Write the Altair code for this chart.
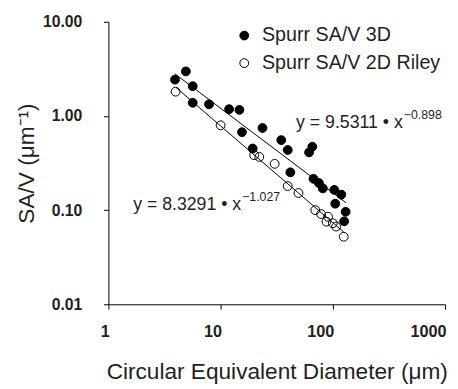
import altair as alt
import pandas as pd

FONT = "Liberation Sans"

# Series: Spurr SA/V 3D (filled)
filled_x = [3.92, 4.90, 5.64, 5.64, 7.88, 11.9, 14.7, 15.5, 23.6, 19.3, 34.7, 39.6,
            61.4, 65.6, 41.8, 67.2, 75.1, 81.4, 103, 119, 105, 130, 126]
filled_y = [2.43, 2.97, 2.07, 1.38, 1.33, 1.18, 1.16, 0.672, 0.745, 0.451, 0.554, 0.435,
            0.410, 0.471, 0.252, 0.215, 0.194, 0.170, 0.164, 0.146, 0.117, 0.096, 0.076]

# Series: Spurr SA/V 2D Riley (open)
open_x = [3.97, 10.0, 19.9, 22.1, 30.3, 39.6, 49.4, 69.7, 78.6, 90.6, 87.7, 100, 107, 125]
open_y = [1.81, 0.796, 0.383, 0.367, 0.310, 0.180, 0.152, 0.100, 0.0908, 0.0851,
          0.0754, 0.0726, 0.0669, 0.0521]

series_names = ["Spurr SA/V 3D", "Spurr SA/V 2D Riley"]

# Power-law fits y = a * x^b and their x extents
fit_a = [9.5311, 8.3291]
fit_b = [-0.898, -1.027]
fit_xmin = [3.9, 4.0]
fit_xmax = [131, 125]

# Equation labels (anchor at end of "x", in data units)
eq_main = ["y = 9.5311 \u2022 x", "y = 8.3291 \u2022 x"]
eq_sup = ["\u22120.898", "\u22121.027"]
eq_x = [420, 15.25]
eq_y = [0.85, 0.1128]

x_ticks = [1, 10, 100, 1000]
y_ticks = [0.01, 0.1, 1, 10]

pts = pd.DataFrame(
    {"x": filled_x + open_x,
     "y": filled_y + open_y,
     "series": [series_names[0]] * len(filled_x) + [series_names[1]] * len(open_x)}
)

lines = pd.DataFrame(
    {"series": [s for s in series_names for _ in range(2)],
     "x": [v for i in range(2) for v in (fit_xmin[i], fit_xmax[i])],
     "a": [fit_a[i] for i in range(2) for _ in range(2)],
     "b": [fit_b[i] for i in range(2) for _ in range(2)]}
)

eqs = pd.DataFrame({"x": eq_x, "y": eq_y, "main": eq_main, "sup": eq_sup})

xscale = alt.Scale(type="log", domain=[1, 1000], nice=False)
yscale = alt.Scale(type="log", domain=[0.01, 10], nice=False)

xaxis = alt.Axis(
    values=x_ticks, format="d", grid=False,
    title="Circular Equivalent Diameter (\u03bcm)",
    titleFont=FONT, titleFontSize=23, titleFontWeight="normal", titleColor="#231f20",
    titleBaseline="alphabetic", titleY=75.7,
    labelFont=FONT, labelFontSize=16.5, labelFontWeight="bold", labelColor="#231f20",
    labelAlign="right", labelOffset=1, labelBaseline="alphabetic", labelPadding=28,
    labelFlush=False, labelOverlap=False,
    tickSize=5, tickColor="black", domainColor="black", tickWidth=1, domainWidth=1,
)
yaxis = alt.Axis(
    values=y_ticks, format=".2f", grid=False,
    title="SA/V (\u03bcm\u207b\u00b9)",
    titleFont=FONT, titleFontSize=23, titleFontWeight="normal", titleColor="#231f20",
    titleBaseline="alphabetic", titleX=-76.5,
    labelFont=FONT, labelFontSize=16, labelFontWeight="bold", labelColor="#231f20",
    labelBaseline="middle", labelPadding=22, labelFlush=False, labelOverlap=False,
    tickSize=5, tickColor="black", domainColor="black", tickWidth=1, domainWidth=1,
)

fill_scale = alt.Scale(domain=series_names, range=["black", "transparent"])

points = alt.Chart(pts).mark_point(
    shape="circle", size=80, stroke="black", strokeWidth=1, opacity=1
).encode(
    x=alt.X("x:Q", scale=xscale, axis=xaxis),
    y=alt.Y("y:Q", scale=yscale, axis=yaxis),
    fill=alt.Fill(
        "series:N", scale=fill_scale, sort=series_names,
        legend=alt.Legend(
            orient="none", legendX=128, legendY=4, direction="vertical",
            title=None, labelFont=FONT, labelFontSize=20, labelColor="#231f20",
            labelLimit=0,
            symbolType="circle", symbolSize=80, symbolStrokeColor="black",
            symbolStrokeWidth=1, labelOffset=8, rowPadding=8, padding=0,
        ),
    ),
)

fit_lines = alt.Chart(lines).transform_calculate(
    y="datum.a * pow(datum.x, datum.b)"
).mark_line(color="black", strokeWidth=1).encode(
    x=alt.X("x:Q", scale=xscale),
    y=alt.Y("y:Q", scale=yscale),
    detail="series:N",
)

eq_main_txt = alt.Chart(eqs).mark_text(
    align="right", baseline="middle", font=FONT, fontSize=18, color="#231f20"
).encode(x=alt.X("x:Q", scale=xscale), y=alt.Y("y:Q", scale=yscale), text="main:N")

eq_sup_txt = alt.Chart(eqs).mark_text(
    align="left", baseline="middle", font=FONT, fontSize=12.5, dx=1, dy=-8, color="#231f20"
).encode(x=alt.X("x:Q", scale=xscale), y=alt.Y("y:Q", scale=yscale), text="sup:N")

chart = alt.layer(fit_lines, points, eq_main_txt, eq_sup_txt).properties(
    width=342, height=287,
    padding={"left": 102, "top": 11, "right": 5, "bottom": 80},
    autosize="none",
    background="white",
).configure_view(stroke=None)

chart.save("out.html", embed_options={"renderer": "svg", "actions": False})
